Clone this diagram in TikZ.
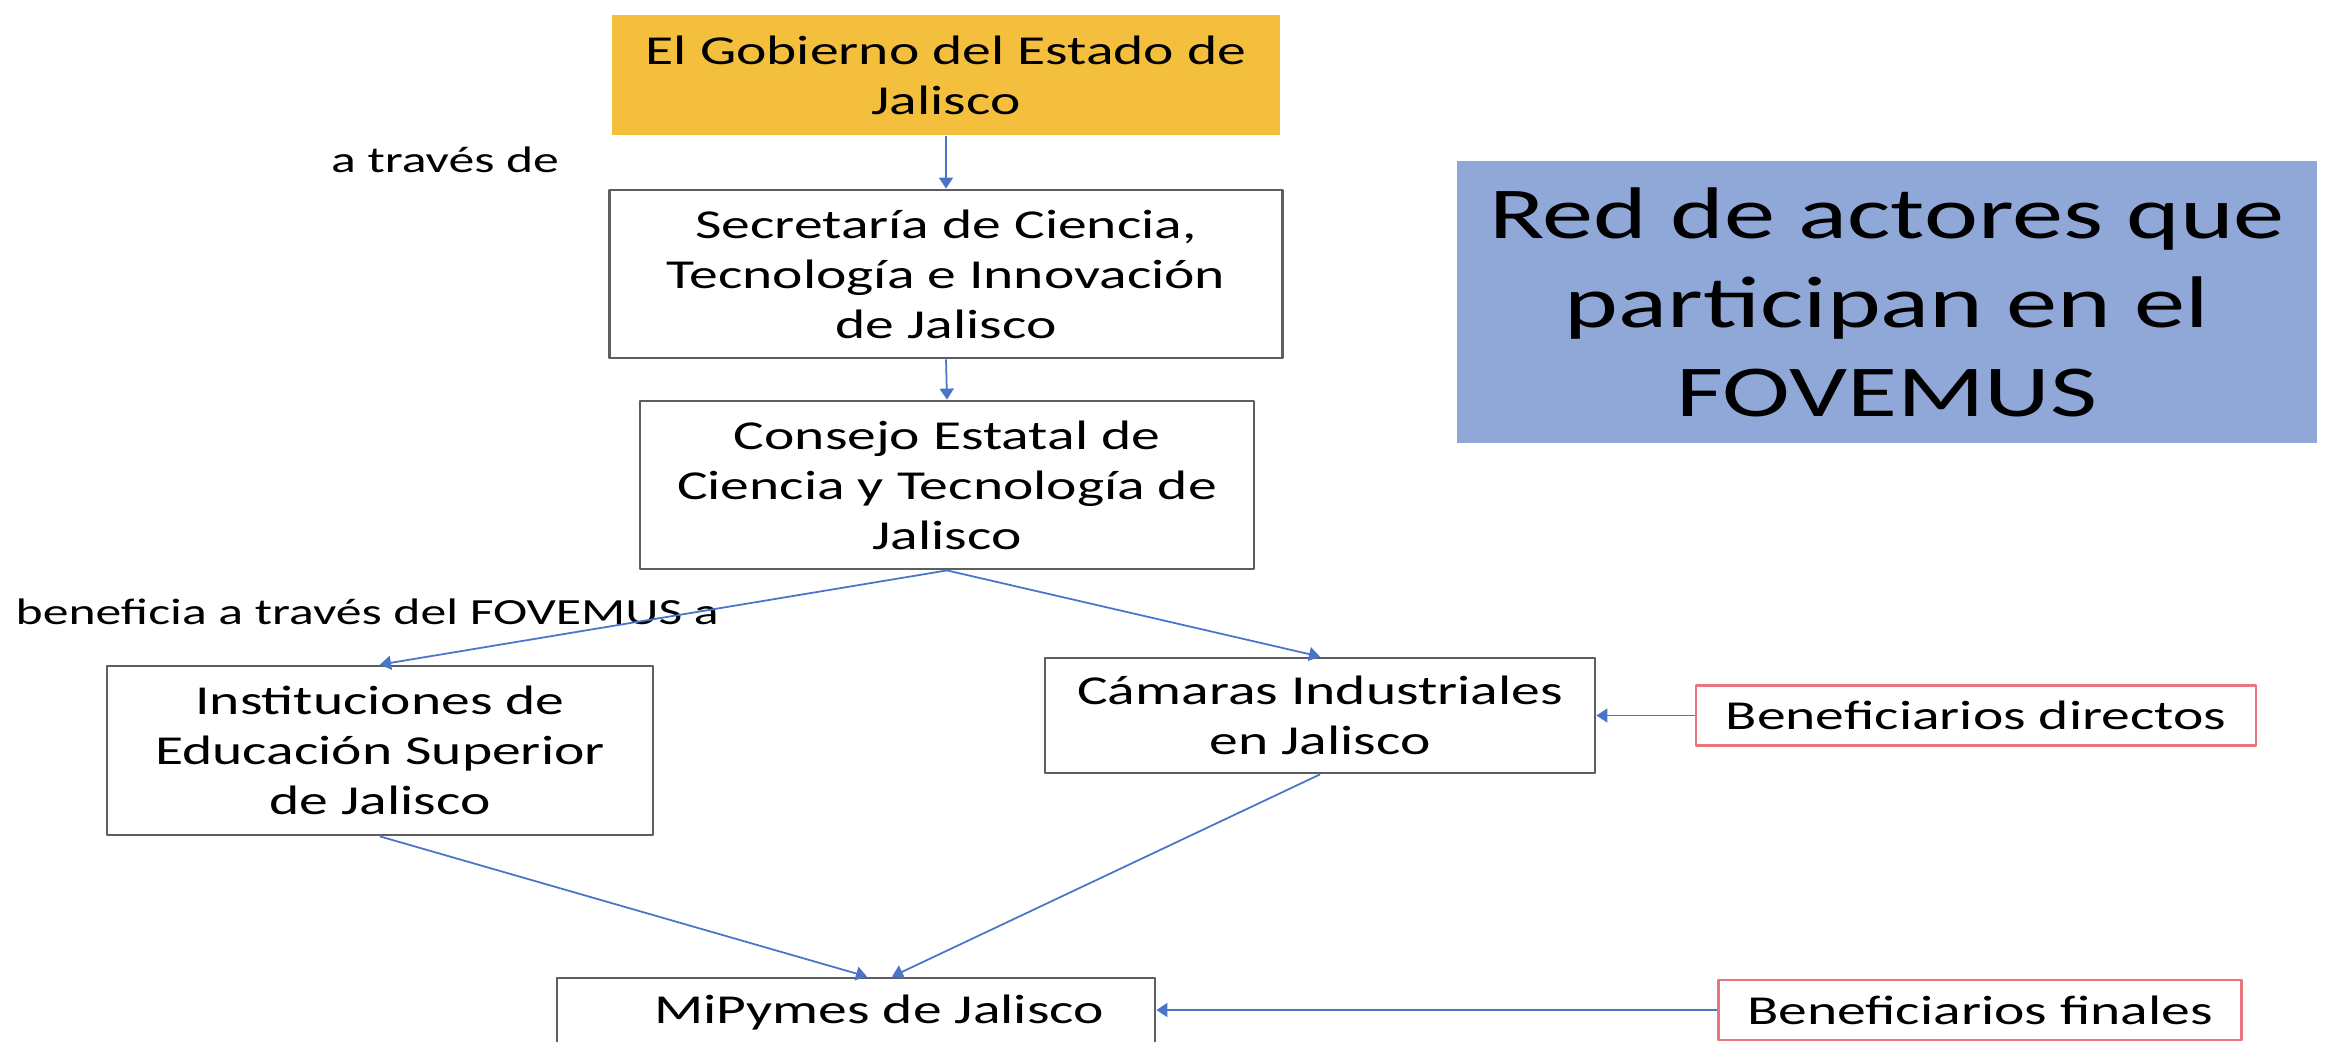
\documentclass[tikz,border=0pt]{standalone}
\usepackage{fontspec}
\setmainfont{Carlito}[FakeStretch=1.4]
\usetikzlibrary{arrows.meta}
\definecolor{oro}{HTML}{F3BF3D}
\definecolor{azulcaja}{HTML}{8FA8D8}
\definecolor{azullinea}{HTML}{4A74C8}
\definecolor{rojo}{HTML}{E8767C}
\definecolor{gris}{HTML}{5E5E5E}
\begin{document}
\begin{tikzpicture}[line join=round,
	actor/.style={draw=gris,line width=0.8pt,align=center,inner sep=0pt,font=\fontsize{11.7}{14.2}\selectfont},
	benef/.style={draw=rojo,line width=0.7pt,inner sep=0pt,font=\fontsize{11.7}{14.2}\selectfont},
	link/.style={azullinea,line width=0.5pt,-{Triangle[length=1.1mm,width=1.4mm]}},
	etiq/.style={inner sep=0pt,font=\fontsize{10.5}{12.6}\selectfont}]
		\useasboundingbox (0,0) rectangle (23.43,-10.41);
		\clip (0,0) rectangle (23.43,-10.41);
		% actores
		\node[actor,draw=none,fill=oro,minimum width=6.68cm,minimum height=1.2cm] (gob) at (9.46,-0.75) {El Gobierno del Estado de\\Jalisco};
		\node[actor,minimum width=6.73cm,minimum height=1.68cm] (sec) at (9.46,-2.74) {Secretaría de Ciencia,\\Tecnología e Innovación\\de Jalisco};
		\node[actor,minimum width=6.14cm,minimum height=1.68cm] (con) at (9.47,-4.85) {Consejo Estatal de\\Ciencia y Tecnología de\\Jalisco};
		\node[actor,minimum width=5.46cm,minimum height=1.69cm] (ins) at (3.80,-7.505) {Instituciones de\\Educación Superior\\de Jalisco};
		\node[actor,minimum width=5.5cm,minimum height=1.15cm] (cam) at (13.20,-7.155) {Cámaras Industriales\\en Jalisco};
		\node[actor,minimum width=5.98cm,minimum height=0.7cm] (mip) at (8.56,-10.13) {MiPymes de Jalisco\hspace*{-0.46cm}};
		% beneficiarios
		\node[benef,minimum width=5.6cm,minimum height=0.6cm] (bdir) at (19.76,-7.155) {Beneficiarios directos};
		\node[benef,minimum width=5.23cm,minimum height=0.6cm] (bfin) at (19.80,-10.10) {Beneficiarios finales};
		% titulo
		\node[fill=azulcaja,align=center,inner sep=0pt,minimum width=8.6cm,minimum height=2.82cm,font=\fontsize{20.8}{25.3}\selectfont] (tit) at (18.87,-3.02) {Red de actores que\\participan en el\\FOVEMUS};
		% etiquetas
		\node[etiq] (lab1) at (4.45,-1.60) {a través de};
		\node[etiq,anchor=west] (lab2) at (0.15,-6.12) {beneficia a través del FOVEMUS a};
		% conectores
		\draw[link] (gob.south)--(sec.north);
		\draw[link] (sec.south)--(con.north);
		\draw[link] (con.south)--(ins.north);
		\draw[link] (con.south)--(cam.north);
		\draw[link] (ins.south)--([xshift=1.1mm]mip.north);
		\draw[link] (cam.south)--([xshift=3.6mm]mip.north);
		\draw[link] (bdir.west)--(cam.east);
		\draw[link] (bfin.west)--(mip.east|-bfin.west);
\end{tikzpicture}
\end{document}
